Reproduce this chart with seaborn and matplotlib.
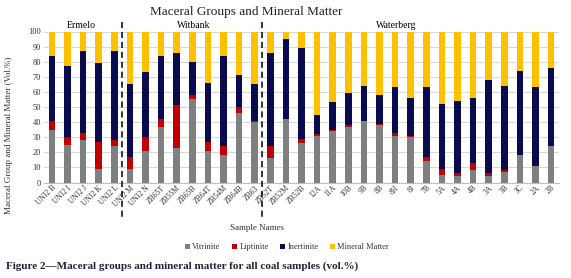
import matplotlib
matplotlib.use("Agg")
import matplotlib.pyplot as plt
import seaborn as sns
import numpy as np
import pandas as pd
from matplotlib.patches import Patch

samples = ["UNI2 B", "UNI2 I", "UNI2 J", "UNI2 K", "UNI2 L", "UNI2 M", "UNI2 N",
           "ZB65T", "ZB55M", "ZB65B", "ZB64T", "ZB54M", "ZB64B", "ZB63",
           "ZB52T", "ZB52M", "ZB52B", "12A", "11A", "10B", "9B", "8B", "8H", "8J",
           "7B", "5A", "4A", "4B", "3A", "3B", "3C", "2A", "2B"]
vitrinite = [35, 25, 28, 9, 24, 9, 21, 37, 23, 55, 21, 18, 46, 40,
             16, 42, 26, 31, 34, 37, 41, 38, 31, 30, 14, 5, 4, 8, 4, 7, 18, 11, 24]
liptinite = [6, 5, 5, 18, 4, 8, 9, 5, 28, 3, 6, 6, 4, 1,
             8, 0, 3, 1, 1, 1, 0, 1, 2, 1, 3, 4, 2, 5, 2, 1, 0, 0, 0]
inertinite = [43, 47, 54, 52, 59, 48, 43, 42, 35, 22, 39, 60, 21, 24,
              62, 53, 60, 13, 18, 21, 23, 19, 30, 25, 46, 43, 48, 43, 62, 56, 56, 52, 52]
mineral = [16, 23, 13, 21, 13, 35, 27, 16, 14, 20, 34, 16, 29, 35,
           14, 5, 11, 55, 47, 41, 36, 42, 37, 44, 37, 48, 46, 44, 32, 36, 26, 37, 24]
series_names = ["Vitrinite", "Liptinite", "Inertinite", "Mineral Matter"]
series_colors = ["#7f7f7f", "#c00000", "#0a0a4e", "#ffc000"]
regions = ["Ermelo", "Witbank", "Waterberg"]
region_sizes = [5, 9, 19]

df = pd.DataFrame({"Sample": samples, "Vitrinite": vitrinite, "Liptinite": liptinite,
                   "Inertinite": inertinite, "Mineral Matter": mineral})
cum = df[series_names].cumsum(axis=1)

serif = ["Liberation Serif", "DejaVu Serif"]
sns.set_theme(style="white")
plt.rcParams["font.family"] = serif

fig = plt.figure(figsize=(5.71, 2.78), dpi=100)
ax = fig.add_axes([44/571, 1-182.5/278, (559-44)/571, (182.5-31.5)/278])

for name, color in reversed(list(zip(series_names, series_colors))):
    sns.barplot(x=df["Sample"], y=cum[name], color=color, width=0.42,
                saturation=1, ax=ax, zorder=3, linewidth=0)

ax.set_ylim(0, 100)
ax.set_xlim(-0.5, len(samples) - 0.5)
ax.set_yticks(range(0, 101, 10))
ax.yaxis.grid(True, color="#d9d9d9", linewidth=0.8, zorder=0)
ax.xaxis.grid(False)
for s in ["top", "right", "left"]:
    ax.spines[s].set_visible(False)
ax.spines["bottom"].set_color("#bfbfbf")
ax.spines["bottom"].set_linewidth(0.8)
ax.tick_params(axis="y", labelsize=6, pad=2, length=0, colors="#333333")
ax.tick_params(axis="x", labelsize=5.5, pad=1, length=0, colors="#333333")
ax.set_xticks(range(len(samples)))
ax.set_xticklabels(samples, rotation=45, ha="right", rotation_mode="anchor")
ax.set_xlabel("")
ax.set_ylabel("")

# region separators and labels
b = 0
label_x = [81, 194, 396]
for i, n in enumerate(region_sizes):
    if i > 0:
        xs = b - 0.5
        ax.plot([xs, xs], [106, -23.5], ls=(0, (4, 2.5)), color="black", lw=1.1,
                clip_on=False, zorder=5)
    fig.text(label_x[i]/571, 1-26/278, regions[i], ha="center", va="center",
             fontsize=7, color="black")
    b += n

fig.text(246/571, 1-12/278, "Maceral Groups and Mineral Matter", ha="center",
         va="center", fontsize=9.5, color="#222222")
fig.text(257/571, 1-228/278, "Sample Names", ha="center", va="center",
         fontsize=6.5, color="#333333")
fig.text(9/571, 1-135/278, "Maceral Group and Mineral Matter (Vol.%)", ha="center",
         va="center", rotation=90, fontsize=6.5, color="#333333")

handles = [Patch(facecolor=c, edgecolor="none", label=n) for n, c in zip(series_names, series_colors)]
fig.legend(handles=handles, loc="center", bbox_to_anchor=(287/571, 1-247/278), ncol=4,
           frameon=False, fontsize=6, handlelength=0.55, handleheight=0.55,
           handletextpad=0.3, columnspacing=1.4, labelcolor="#333333")

fig.text(6/571, 1-266/278, "Figure 2\u2014Maceral groups and mineral matter for all coal samples (vol.%)",
         ha="left", va="center", fontsize=8.0, fontweight="bold", color="#2a1f3a")

fig.savefig("out.png", dpi=100)
